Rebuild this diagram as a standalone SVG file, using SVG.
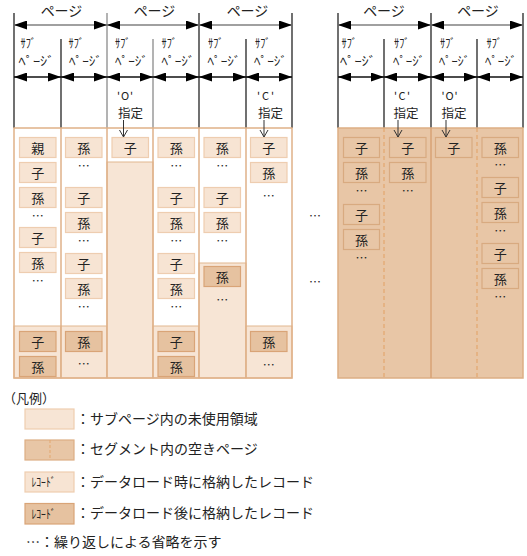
<svg xmlns="http://www.w3.org/2000/svg" width="527" height="556" viewBox="0 0 527 556">
<style>
text{font-family:"Noto Sans CJK JP","Noto Sans",sans-serif;fill:#222}
.pg{font-size:14px;text-anchor:middle}
.sp{font-size:12.5px}
.q{font-size:11px}
.sh{font-size:13px}
.sd{font-size:12.5px}
.rt{font-size:13px;text-anchor:middle}
.el{font-size:12px;text-anchor:middle}
.lg{font-size:14px}
.rl{fill:#F7E4D3;stroke:#EECDB0;stroke-width:1.2}
.rd{fill:#E6C2A0;stroke:#D9A477;stroke-width:1.2}
.rr{fill:#E8C6A6;stroke:#D8AA80;stroke-width:1.2}
.band{fill:#F7E5D5;stroke:#E2B88F;stroke-width:1}
.vl{stroke:#111;stroke-width:1.2}
.vg{stroke:#808080;stroke-width:1.2}
.tan{stroke:#DFB188;stroke-width:1.5;fill:none}
.pa{stroke:#808080;stroke-width:1.5;marker-start:url(#ah);marker-end:url(#ah)}
.sa{stroke:#111;stroke-width:1.5;marker-start:url(#ah);marker-end:url(#ah)}
.da{stroke:#333;stroke-width:1;marker-end:url(#va)}
</style>
<defs>
<marker id="ah" viewBox="0 0 13 9" markerWidth="13" markerHeight="9" refX="13" refY="4.5" orient="auto-start-reverse" markerUnits="userSpaceOnUse"><path d="M0,0 L13,4.5 L0,9 z" fill="#000"/></marker>
<marker id="va" viewBox="0 0 10 10" markerWidth="10" markerHeight="10" refX="10" refY="5" orient="auto" markerUnits="userSpaceOnUse"><path d="M3,1 L10,5 L3,9" fill="none" stroke="#333" stroke-width="1"/></marker>
</defs>
<rect width="527" height="556" fill="#fff"/>

<g id="header">
<line class="vl" x1="14" y1="13" x2="14" y2="128"/>
<line class="vl" x1="61" y1="39" x2="61" y2="128"/>
<line class="vg" x1="107" y1="13" x2="107" y2="128"/>
<line class="vg" x1="153" y1="39" x2="153" y2="128"/>
<line class="vl" x1="199" y1="13" x2="199" y2="128"/>
<line class="vl" x1="246" y1="39" x2="246" y2="128"/>
<line class="vl" x1="292" y1="13" x2="292" y2="128"/>
<line class="vl" x1="338" y1="13" x2="338" y2="128"/>
<line class="vl" x1="384" y1="39" x2="384" y2="128"/>
<line class="vl" x1="431" y1="13" x2="431" y2="128"/>
<line class="vl" x1="477" y1="39" x2="477" y2="128"/>
<line class="vl" x1="523" y1="13" x2="523" y2="128"/>
<text class="pg" x="61.5" y="16">ページ</text>
<text class="pg" x="154.5" y="16">ページ</text>
<text class="pg" x="247.5" y="16">ページ</text>
<text class="pg" x="384" y="16">ページ</text>
<text class="pg" x="478" y="16">ページ</text>
<text class="sp" x="20.5" y="47.5" textLength="15.5" lengthAdjust="spacingAndGlyphs">ｻﾌﾞ</text>
<text class="sp" x="18.5" y="65.5" textLength="36" lengthAdjust="spacingAndGlyphs">ﾍﾟｰｼﾞ</text>
<text class="sp" x="68.5" y="47.5" textLength="15.5" lengthAdjust="spacingAndGlyphs">ｻﾌﾞ</text>
<text class="sp" x="69" y="65.5" textLength="33" lengthAdjust="spacingAndGlyphs">ﾍﾟｰｼﾞ</text>
<text class="sp" x="115" y="47.5" textLength="15.5" lengthAdjust="spacingAndGlyphs">ｻﾌﾞ</text>
<text class="sp" x="115" y="65.5" textLength="33" lengthAdjust="spacingAndGlyphs">ﾍﾟｰｼﾞ</text>
<text class="sp" x="161.5" y="47.5" textLength="15.5" lengthAdjust="spacingAndGlyphs">ｻﾌﾞ</text>
<text class="sp" x="161.5" y="65.5" textLength="33" lengthAdjust="spacingAndGlyphs">ﾍﾟｰｼﾞ</text>
<text class="sp" x="208" y="47.5" textLength="15.5" lengthAdjust="spacingAndGlyphs">ｻﾌﾞ</text>
<text class="sp" x="207.5" y="65.5" textLength="33" lengthAdjust="spacingAndGlyphs">ﾍﾟｰｼﾞ</text>
<text class="sp" x="255" y="47.5" textLength="15.5" lengthAdjust="spacingAndGlyphs">ｻﾌﾞ</text>
<text class="sp" x="254" y="65.5" textLength="33" lengthAdjust="spacingAndGlyphs">ﾍﾟｰｼﾞ</text>
<text class="sp" x="341.5" y="47.5" textLength="15.5" lengthAdjust="spacingAndGlyphs">ｻﾌﾞ</text>
<text class="sp" x="340" y="65.5" textLength="36" lengthAdjust="spacingAndGlyphs">ﾍﾟｰｼﾞ</text>
<text class="sp" x="394" y="47.5" textLength="15.5" lengthAdjust="spacingAndGlyphs">ｻﾌﾞ</text>
<text class="sp" x="393" y="65.5" textLength="32" lengthAdjust="spacingAndGlyphs">ﾍﾟｰｼﾞ</text>
<text class="sp" x="440" y="47.5" textLength="15.5" lengthAdjust="spacingAndGlyphs">ｻﾌﾞ</text>
<text class="sp" x="439" y="65.5" textLength="31" lengthAdjust="spacingAndGlyphs">ﾍﾟｰｼﾞ</text>
<text class="sp" x="486.5" y="47.5" textLength="15.5" lengthAdjust="spacingAndGlyphs">ｻﾌﾞ</text>
<text class="sp" x="485" y="65.5" textLength="32" lengthAdjust="spacingAndGlyphs">ﾍﾟｰｼﾞ</text>
<text class="q" x="117" y="100" textLength="16">'O'</text>
<text class="sd" x="118" y="118">指定</text>
<text class="q" x="257" y="100" textLength="17">'C'</text>
<text class="sd" x="258" y="118">指定</text>
<text class="q" x="394" y="100" textLength="16">'C'</text>
<text class="sd" x="393.5" y="118">指定</text>
<text class="q" x="441.5" y="100" textLength="16">'O'</text>
<text class="sd" x="441.5" y="118">指定</text>
</g>

<g id="body-left">
<rect x="14" y="128" width="278" height="250" fill="#fff"/>
<rect class="band" x="14" y="326" width="47" height="52"/>
<rect class="band" x="61" y="326" width="46" height="52"/>
<rect class="band" x="107" y="162" width="46" height="216"/>
<rect class="band" x="153" y="326" width="46" height="52"/>
<rect class="band" x="199" y="263" width="47" height="115"/>
<rect class="band" x="246" y="326" width="46" height="52"/>
<rect class="tan" x="14" y="128" width="278" height="250"/>
<line class="tan" x1="61" y1="128" x2="61" y2="378"/>
<line class="tan" x1="107" y1="128" x2="107" y2="378"/>
<line class="tan" x1="153" y1="128" x2="153" y2="378"/>
<line class="tan" x1="199" y1="128" x2="199" y2="378"/>
<line class="tan" x1="246" y1="128" x2="246" y2="378"/>
</g>

<g id="body-right">
<rect x="338" y="128" width="185" height="250" fill="#E8C6A6" stroke="#DDAE84" stroke-width="1.5"/>
<line x1="384" y1="128" x2="384" y2="378" stroke="#E3A76E" stroke-width="1.2" stroke-dasharray="4,3"/>
<line x1="431" y1="128" x2="431" y2="378" stroke="#D9A274" stroke-width="1.5"/>
<line x1="477" y1="128" x2="477" y2="378" stroke="#E3A76E" stroke-width="1.2" stroke-dasharray="4,3"/>
</g>

<g id="col1">
<rect class="rl" x="19.5" y="137.5" width="36.5" height="20"/><text class="rt" x="37.7" y="152.5">親</text>
<rect class="rl" x="19.5" y="162.5" width="36.5" height="20"/><text class="rt" x="37.7" y="177.5">子</text>
<rect class="rl" x="19.5" y="187.5" width="36.5" height="20"/><text class="rt" x="37.7" y="202.5">孫</text>
<text class="el" x="37.7" y="221">…</text>
<rect class="rl" x="19.5" y="227.5" width="36.5" height="20"/><text class="rt" x="37.7" y="242.5">子</text>
<rect class="rl" x="19.5" y="252.5" width="36.5" height="20"/><text class="rt" x="37.7" y="267.5">孫</text>
<text class="el" x="37.7" y="286">…</text>
<rect class="rd" x="19.5" y="331.5" width="36.5" height="20"/><text class="rt" x="37.7" y="346.5">子</text>
<rect class="rd" x="19.5" y="356.5" width="36.5" height="20"/><text class="rt" x="37.7" y="371.5">孫</text>
</g>

<g id="col2">
<rect class="rl" x="65.5" y="137.5" width="36.5" height="20"/><text class="rt" x="83.7" y="152.5">孫</text>
<text class="el" x="83.7" y="171">…</text>
<rect class="rl" x="65.5" y="187.5" width="36.5" height="20"/><text class="rt" x="83.7" y="202.5">子</text>
<rect class="rl" x="65.5" y="212.5" width="36.5" height="20"/><text class="rt" x="83.7" y="227.5">孫</text>
<text class="el" x="83.7" y="246">…</text>
<rect class="rl" x="65.5" y="253.5" width="36.5" height="20"/><text class="rt" x="83.7" y="268.5">子</text>
<rect class="rl" x="65.5" y="278.5" width="36.5" height="20"/><text class="rt" x="83.7" y="293.5">孫</text>
<text class="el" x="83.7" y="311.5">…</text>
<rect class="rd" x="65.5" y="331.5" width="36.5" height="20"/><text class="rt" x="83.7" y="346.5">孫</text>
<text class="el" x="83.7" y="368.5">…</text>
</g>

<g id="col3">
<rect class="rl" x="112" y="137.5" width="36.5" height="20"/><text class="rt" x="130.2" y="152.5">子</text>
</g>

<g id="col4">
<rect class="rl" x="158" y="137.5" width="36.5" height="20"/><text class="rt" x="176.2" y="152.5">孫</text>
<text class="el" x="176.2" y="171">…</text>
<rect class="rl" x="158" y="187.5" width="36.5" height="20"/><text class="rt" x="176.2" y="202.5">子</text>
<rect class="rl" x="158" y="212.5" width="36.5" height="20"/><text class="rt" x="176.2" y="227.5">孫</text>
<text class="el" x="176.2" y="246">…</text>
<rect class="rl" x="158" y="253.5" width="36.5" height="20"/><text class="rt" x="176.2" y="268.5">子</text>
<rect class="rl" x="158" y="278.5" width="36.5" height="20"/><text class="rt" x="176.2" y="293.5">孫</text>
<text class="el" x="176.2" y="311.5">…</text>
<rect class="rd" x="158" y="331.5" width="36.5" height="20"/><text class="rt" x="176.2" y="346.5">子</text>
<rect class="rd" x="158" y="356.5" width="36.5" height="20"/><text class="rt" x="176.2" y="371.5">孫</text>
</g>

<g id="col5">
<rect class="rl" x="204" y="137.5" width="36.5" height="20"/><text class="rt" x="222.2" y="152.5">孫</text>
<text class="el" x="222.2" y="171">…</text>
<rect class="rl" x="204" y="187.5" width="36.5" height="20"/><text class="rt" x="222.2" y="202.5">子</text>
<rect class="rl" x="204" y="212.5" width="36.5" height="20"/><text class="rt" x="222.2" y="227.5">孫</text>
<text class="el" x="222.2" y="246">…</text>
<rect class="rd" x="204" y="266.5" width="36.5" height="20"/><text class="rt" x="222.2" y="281.5">孫</text>
<text class="el" x="222.2" y="304.5">…</text>
</g>

<g id="col6">
<rect class="rl" x="250.5" y="137.5" width="36.5" height="20"/><text class="rt" x="268.7" y="152.5">子</text>
<rect class="rl" x="250.5" y="162.5" width="36.5" height="20"/><text class="rt" x="268.7" y="177.5">孫</text>
<text class="el" x="268.7" y="201">…</text>
<rect class="rd" x="250.5" y="331.5" width="36.5" height="20"/><text class="rt" x="268.7" y="346.5">孫</text>
<text class="el" x="268.7" y="369.5">…</text>
</g>

<g id="gap">
<text class="el" x="315" y="221">…</text>
<text class="el" x="315" y="286.5">…</text>
</g>

<g id="col7">
<rect class="rr" x="343.5" y="137.5" width="36" height="20"/><text class="rt" x="361.5" y="152.5">子</text>
<rect class="rr" x="343.5" y="162.5" width="36" height="20"/><text class="rt" x="361.5" y="177.5">孫</text>
<text class="el" x="361.5" y="196">…</text>
<rect class="rr" x="343.5" y="204.5" width="36" height="20"/><text class="rt" x="361.5" y="219.5">子</text>
<rect class="rr" x="343.5" y="229.5" width="36" height="20"/><text class="rt" x="361.5" y="244.5">孫</text>
<text class="el" x="361.5" y="262.5">…</text>
</g>

<g id="col8">
<rect class="rr" x="389.5" y="137.5" width="36.5" height="20"/><text class="rt" x="407.7" y="152.5">子</text>
<rect class="rr" x="389.5" y="162.5" width="36.5" height="20"/><text class="rt" x="407.7" y="177.5">孫</text>
<text class="el" x="407.7" y="196">…</text>
</g>

<g id="col9">
<rect class="rr" x="435.5" y="137.5" width="36.5" height="20"/><text class="rt" x="453.7" y="152.5">子</text>
</g>

<g id="col10">
<rect class="rr" x="482" y="137.5" width="36.5" height="20"/><text class="rt" x="500.2" y="152.5">孫</text>
<text class="el" x="500.2" y="169.5">…</text>
<rect class="rr" x="482" y="177.5" width="36.5" height="20"/><text class="rt" x="500.2" y="192.5">子</text>
<rect class="rr" x="482" y="202.5" width="36.5" height="20"/><text class="rt" x="500.2" y="217.5">孫</text>
<text class="el" x="500.2" y="236">…</text>
<rect class="rr" x="482" y="243.5" width="36.5" height="20"/><text class="rt" x="500.2" y="258.5">子</text>
<rect class="rr" x="482" y="268.5" width="36.5" height="20"/><text class="rt" x="500.2" y="283.5">孫</text>
<text class="el" x="500.2" y="302">…</text>
</g>

<g id="connectors">
<line class="pa" x1="14" y1="25" x2="107" y2="25"/>
<line class="pa" x1="107" y1="25" x2="199" y2="25"/>
<line class="pa" x1="199" y1="25" x2="292" y2="25"/>
<line class="pa" x1="338" y1="25" x2="431" y2="25"/>
<line class="pa" x1="431" y1="25" x2="523" y2="25"/>
<line class="sa" x1="14" y1="77" x2="61" y2="77"/>
<line class="sa" x1="61" y1="77" x2="107" y2="77"/>
<line class="sa" x1="107" y1="77" x2="153" y2="77"/>
<line class="sa" x1="153" y1="77" x2="199" y2="77"/>
<line class="sa" x1="199" y1="77" x2="246" y2="77"/>
<line class="sa" x1="246" y1="77" x2="292" y2="77"/>
<line class="sa" x1="338" y1="77" x2="384" y2="77"/>
<line class="sa" x1="384" y1="77" x2="431" y2="77"/>
<line class="sa" x1="431" y1="77" x2="477" y2="77"/>
<line class="sa" x1="477" y1="77" x2="523" y2="77"/>
<line class="da" x1="123.5" y1="120" x2="123.5" y2="137"/>
<line class="da" x1="264" y1="120" x2="264" y2="137"/>
<line class="da" x1="398" y1="120" x2="398" y2="137"/>
<line class="da" x1="446" y1="120" x2="446" y2="137"/>
</g>

<g id="legend">
<text class="sh" x="3" y="403">（凡例）</text>
<rect x="25" y="409" width="49" height="20" fill="#F7E5D5" stroke="#EECDB0" stroke-width="1.2"/>
<text class="lg" x="76" y="423.5">：サブページ内の未使用領域</text>
<rect x="25" y="440" width="49" height="20" fill="#E8C6A6" stroke="#DDAE84" stroke-width="1.2"/>
<line x1="50" y1="440" x2="50" y2="460" stroke="#E3A76E" stroke-width="1" stroke-dasharray="3,2"/>
<text class="lg" x="76" y="453.5">：セグメント内の空きページ</text>
<rect class="rl" x="25" y="472" width="49" height="20"/>
<text class="sp" x="31.5" y="486.5" textLength="24" lengthAdjust="spacingAndGlyphs">ﾚｺｰﾄﾞ</text>
<text class="lg" x="76" y="486.5">：データロード時に格納したレコード</text>
<rect class="rd" x="25" y="503.5" width="49" height="20.5"/>
<text class="sp" x="31.5" y="518.5" textLength="24" lengthAdjust="spacingAndGlyphs">ﾚｺｰﾄﾞ</text>
<text class="lg" x="76" y="518">：データロード後に格納したレコード</text>
<text class="lg" x="26" y="546.5">…：繰り返しによる省略を示す</text>
</g>
</svg>
